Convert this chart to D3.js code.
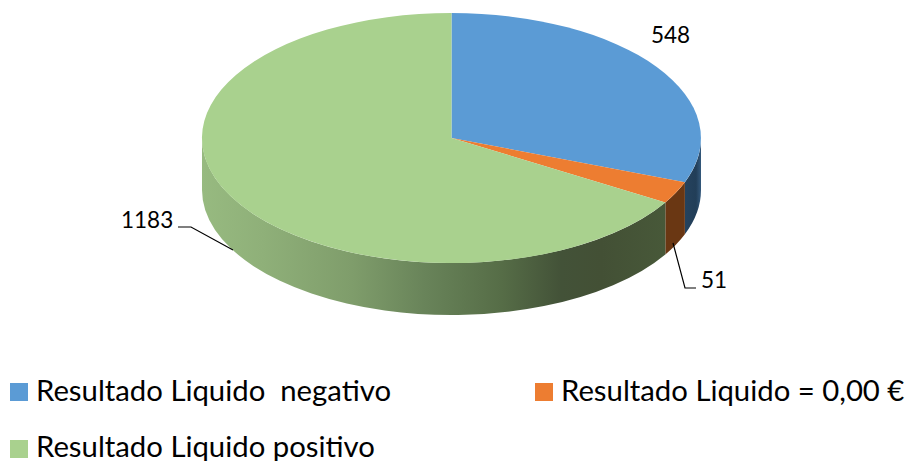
<!DOCTYPE html>
<html><head><meta charset="utf-8">
<script src="https://cdnjs.cloudflare.com/ajax/libs/d3/7.8.5/d3.min.js"></script>
<style>html,body{margin:0;padding:0;background:#fff}svg{display:block}
text{font-family:Lato,sans-serif;fill:#000}</style></head><body>
<svg id="c" width="905" height="461"></svg>
<script>
const categories = ["Resultado Liquido  negativo", "Resultado Liquido = 0,00 €", "Resultado Liquido positivo"];
const values = [548, 51, 1183];
const topColors = ["#5b9bd5", "#ed7d31", "#a9d18e"];

const cx = 451.5, cy = 138, rx = 249.5, ry = 125, depth = 52;
const svg = d3.select("#c");
const defs = svg.append("defs");
const grad = (id, stops) => {
  const g = defs.append("linearGradient").attr("id", id).attr("gradientUnits", "userSpaceOnUse")
    .attr("x1", cx - rx).attr("x2", cx + rx).attr("y1", 0).attr("y2", 0);
  stops.forEach(([o, c]) => g.append("stop").attr("offset", o).attr("stop-color", c));
  return `url(#${id})`;
};
const sideFill = [
  grad("gBlue", [[0.96, "#264460"], [0.99, "#223e58"], [1, "#34597c"]]),
  grad("gOrange", [[0, "#6a3713"], [1, "#6a3713"]]),
  grad("gGreen", [[0, "#97ba80"], [0.12, "#8fb079"], [0.3, "#7f9d6b"], [0.45, "#688359"],
                  [0.6, "#566d47"], [0.72, "#435238"], [0.8, "#435035"], [1, "#4a5d3b"]])
];

const pie = d3.pie().sort(null).startAngle(0).endAngle(2 * Math.PI);
const arcs = pie(values);
const arc = d3.arc().innerRadius(0).outerRadius(1);
const px = a => cx + rx * Math.sin(a), py = a => cy - ry * Math.cos(a);

// side walls: only the front half of the rim (angles PI/2 .. 3PI/2) is visible
const wall = d => {
  const a0 = Math.max(d.startAngle, Math.PI / 2), a1 = Math.min(d.endAngle, 3 * Math.PI / 2);
  if (a1 <= a0) return null;
  const large = a1 - a0 > Math.PI ? 1 : 0;
  return `M${px(a0)},${py(a0)}A${rx},${ry} 0 ${large} 1 ${px(a1)},${py(a1)}`
       + `L${px(a1)},${py(a1) + depth}A${rx},${ry} 0 ${large} 0 ${px(a0)},${py(a0) + depth}Z`;
};
svg.append("g").selectAll("path").data(arcs).join("path")
  .attr("d", wall).attr("fill", (d, i) => sideFill[i]);

svg.append("g").attr("transform", `translate(${cx},${cy}) scale(${rx},${ry})`)
  .selectAll("path").data(arcs).join("path")
  .attr("d", arc).attr("fill", (d, i) => topColors[i]);

// leader lines
const leader = d3.line();
[[[673, 243], [685, 288], [696, 288]], [[178, 227], [191, 227], [233, 250]]].forEach(p =>
  svg.append("path").attr("d", leader(p)).attr("fill", "none").attr("stroke", "#000").attr("stroke-width", 1.2));

// data labels
const labelPos = [[651, 43], [701, 288], [121, 228]];
svg.append("g").selectAll("text").data(values).join("text")
  .attr("x", (d, i) => labelPos[i][0]).attr("y", (d, i) => labelPos[i][1])
  .attr("font-size", 22.5).text(d => d);

// legend
const legendPos = [[10, 36, 383, 401], [535, 561, 383, 401], [10, 36, 440, 457]];
const lg = svg.append("g").selectAll("g").data(categories).join("g");
lg.append("rect").attr("x", (d, i) => legendPos[i][0]).attr("y", (d, i) => legendPos[i][2])
  .attr("width", 18).attr("height", 18).attr("fill", (d, i) => topColors[i]);
lg.append("text").attr("x", (d, i) => legendPos[i][1]).attr("y", (d, i) => legendPos[i][3])
  .attr("font-size", 29.3).attr("xml:space", "preserve").style("white-space", "pre").text(d => d);
</script></body></html>
